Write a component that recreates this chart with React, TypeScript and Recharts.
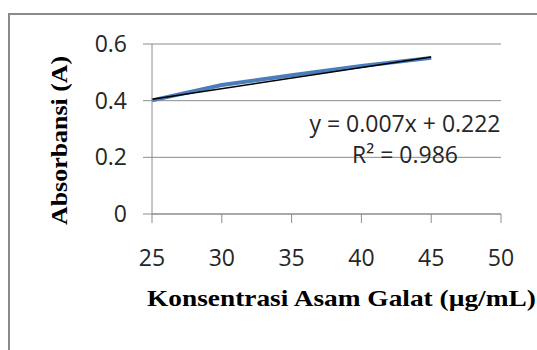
import React from "react";
import { ComposedChart, Line, XAxis, YAxis, CartesianGrid } from "recharts";

const concentrations = [25, 30, 35, 40, 45];
const absorbance = [0.401, 0.455, 0.49, 0.522, 0.551];
const trendValues = [0.405, null, null, null, 0.554];
const xTicks = [25, 30, 35, 40, 45, 50];
const yTicks = [0, 0.2, 0.4, 0.6];
const equationText = "y = 0.007x + 0.222";
const r2Label = "R² = 0.986";
const xTitle = "Konsentrasi Asam Galat (µg/mL)";
const yTitle = "Absorbansi (A)";

const data = concentrations.map((c, i) => ({
  x: c,
  abs: absorbance[i],
  trend: trendValues[i],
}));

const TICK_FONT = "'Open Sans', 'Liberation Sans', sans-serif";
const TITLE_FONT = "'Liberation Serif', 'DejaVu Serif', serif";

const XTick = (props: any) => {
  const { x, y, payload } = props;
  return (
    <text x={x} y={y} dy={21} textAnchor="middle" fontFamily={TICK_FONT} fontSize={23} fill="#262626">
      {payload.value}
    </text>
  );
};

const YTick = (props: any) => {
  const { x, y, payload } = props;
  return (
    <text x={x} y={y} dy={8} textAnchor="end" fontFamily={TICK_FONT} fontSize={23} fill="#262626">
      {payload.value}
    </text>
  );
};

export default function App() {
  return (
    <div style={{ position: "fixed", left: 0, top: 0, width: 537, height: 350, background: "#fff", overflow: "hidden" }}>
      <div
        style={{
          position: "absolute",
          left: 8,
          top: 13,
          width: 600,
          height: 400,
          borderLeft: "2px solid #8a8a8a",
          borderTop: "2px solid #8a8a8a",
        }}
      />
      <div style={{ position: "absolute", left: 0, top: 0 }}>
        <ComposedChart width={537} height={350} data={data} margin={{ top: 44, right: 36, bottom: 76, left: 92 }}>
          <CartesianGrid vertical={false} stroke="#8c8c8c" strokeWidth={1} />
          <XAxis
            dataKey="x"
            type="number"
            domain={[25, 50]}
            ticks={xTicks}
            tickSize={9}
            tickMargin={22}
            stroke="#8c8c8c"
            tick={<XTick />}
            height={60}
            interval={0}
          />
          <YAxis
            type="number"
            domain={[0, 0.6]}
            ticks={yTicks}
            tickSize={9}
            tickMargin={16}
            stroke="#8c8c8c"
            tick={<YTick />}
            width={60}
            interval={0}
          />
          <Line
            type="linear"
            dataKey="abs"
            stroke="#4a7ebb"
            strokeWidth={4}
            dot={false}
            isAnimationActive={false}
          />
          <Line
            type="linear"
            dataKey="trend"
            stroke="#000"
            strokeWidth={1.5}
            dot={false}
            connectNulls
            isAnimationActive={false}
          />
        </ComposedChart>
      </div>
      <svg width={537} height={350} style={{ position: "absolute", left: 0, top: 0, pointerEvents: "none" }}>
        <text x={405} y={132} textAnchor="middle" fontFamily={TICK_FONT} fontSize={23} fill="#262626">
          {equationText}
        </text>
        <text x={405} y={163} textAnchor="middle" fontFamily={TICK_FONT} fontSize={23} fill="#262626">
          {r2Label}
        </text>
        <text
          x={0}
          y={0}
          transform="translate(147,306) scale(1.19,1)"
          fontFamily={TITLE_FONT}
          fontWeight="bold"
          fontSize={23}
          fill="#000"
        >
          {xTitle}
        </text>
        <text
          x={0}
          y={0}
          transform="translate(67,225) rotate(-90) scale(1.08,1)"
          fontFamily={TITLE_FONT}
          fontWeight="bold"
          fontSize={24}
          fill="#000"
        >
          {yTitle}
        </text>
      </svg>
    </div>
  );
}
